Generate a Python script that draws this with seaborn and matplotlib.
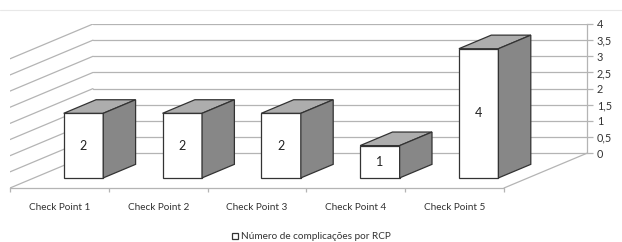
import pandas as pd
import matplotlib
matplotlib.use('Agg')
import matplotlib.pyplot as plt
import matplotlib.transforms as mtransforms
from matplotlib.patches import Polygon
from matplotlib.lines import Line2D
import seaborn as sns

categories = ['Check Point 1', 'Check Point 2', 'Check Point 3', 'Check Point 4', 'Check Point 5']
values = [2, 2, 2, 1, 4]
y_ticks = [0, 0.5, 1, 1.5, 2, 2.5, 3, 3.5, 4]
y_tick_labels = ['0', '0,5', '1', '1,5', '2', '2,5', '3', '3,5', '4']
series_name = 'Número de complicações por RCP'

sns.set_theme(style='white')
plt.rcParams['font.family'] = ['Lato', 'DejaVu Sans']

# oblique depth (full floor depth) in data units
DX, DY = 0.84, 1.077
d_front, d_back = 0.29, 0.68
grid_c = '#b4b4b4'
n = len(categories)

fig = plt.figure(figsize=(6.22, 2.42), dpi=100)
ax = fig.add_axes([10/622, 54/242, 577/622, 164/242])

df = pd.DataFrame({'cat': categories, 'val': values})
sns.barplot(data=df, x='cat', y='val', width=0.4, color='white', saturation=1,
            edgecolor='#333333', linewidth=0.9, ax=ax, zorder=5)

# back wall + side wall gridlines
for v in y_ticks:
    ax.plot([-0.5 + DX, n - 0.5 + DX], [v + DY, v + DY], color=grid_c, lw=0.9, zorder=1)
    ax.plot([-0.5, -0.5 + DX], [v, v + DY], color=grid_c, lw=0.9, zorder=1)
# floor right edge
ax.plot([n - 0.5, n - 0.5 + DX], [0, DY], color=grid_c, lw=0.9, zorder=1)

# shift bars into the depth and add top/side faces
ox, oy = d_front * DX, d_front * DY
ddx, ddy = (d_back - d_front) * DX, (d_back - d_front) * DY
shift = mtransforms.Affine2D().translate(ox, oy)
for p in list(ax.patches):
    p.set_transform(shift + ax.transData)
    x0, w, h = p.get_x(), p.get_width(), p.get_height()
    fx0, fx1, fy0, fy1 = x0 + ox, x0 + w + ox, oy, h + oy
    top = Polygon([(fx0, fy1), (fx1, fy1), (fx1 + ddx, fy1 + ddy), (fx0 + ddx, fy1 + ddy)],
                  closed=True, facecolor='#adadad', edgecolor='#333333', lw=0.9, zorder=5)
    side = Polygon([(fx1, fy0), (fx1 + ddx, fy0 + ddy), (fx1 + ddx, fy1 + ddy), (fx1, fy1)],
                   closed=True, facecolor='#878787', edgecolor='#333333', lw=0.9, zorder=5)
    ax.add_patch(top)
    ax.add_patch(side)
    ax.text((fx0 + fx1) / 2, (fy0 + fy1) / 2, f'{h:g}', ha='center', va='center',
            fontsize=9, color='#222222', zorder=6)

ax.set_xlim(-0.5, n - 0.5 + DX)
ax.set_ylim(0, 4 + DY)
ax.set_xlabel('')
ax.set_ylabel('')

ax.set_xticks(range(n))
ax.set_xticklabels(categories)
ax.set_xticks([i - 0.5 for i in range(n + 1)], minor=True)
ax.tick_params(axis='x', which='major', length=0, pad=11, labelsize=7.2, labelcolor='#333333')
ax.tick_params(axis='x', which='minor', bottom=True, length=3, color=grid_c, width=0.9)

ax.yaxis.tick_right()
ax.set_yticks([v + DY for v in y_ticks])
ax.set_yticklabels(y_tick_labels)
ax.tick_params(axis='y', right=True, length=4, color=grid_c, width=0.9, pad=3,
               labelsize=7.8, labelcolor='#333333')

for s in ['top', 'left']:
    ax.spines[s].set_visible(False)
ax.spines['bottom'].set_bounds(-0.5, n - 0.5)
ax.spines['bottom'].set_color(grid_c)
ax.spines['bottom'].set_linewidth(0.9)
ax.spines['right'].set_bounds(DY, 4 + DY)
ax.spines['right'].set_color(grid_c)
ax.spines['right'].set_linewidth(0.9)
ax.patch.set_alpha(0)

fig.add_artist(Line2D([0, 1], [1 - 10/242, 1 - 10/242], color='#e8e8e8', lw=0.8))
fig.legend([ax.patches[0]], [series_name], loc='lower center', bbox_to_anchor=(0.5, -0.035),
           frameon=False, fontsize=7.2, handlelength=0.6, handleheight=0.6, handletextpad=0.3,
           labelcolor='#333333')

fig.savefig('out.png', dpi=100)
